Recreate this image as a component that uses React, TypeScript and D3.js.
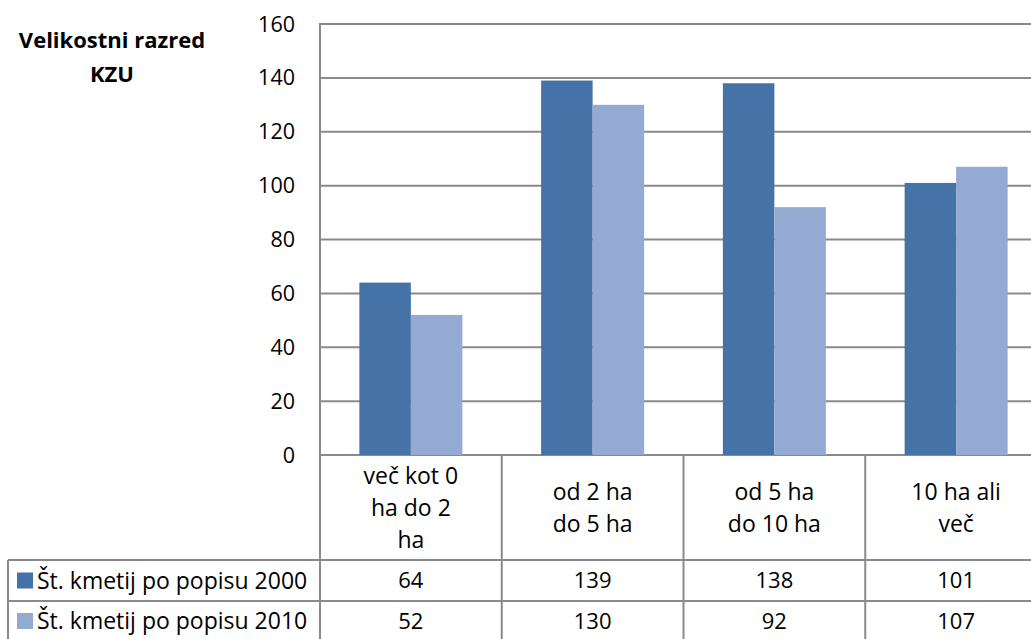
import React from "react";
import * as d3 from "d3";

const categories: string[][] = [
  ["več kot 0", "ha do 2", "ha"],
  ["od 2 ha", "do 5 ha"],
  ["od 5 ha", "do 10 ha"],
  ["10 ha ali", "več"],
];
const seriesNames = ["Št. kmetij po popisu 2000", "Št. kmetij po popisu 2010"];
const values2000 = [64, 139, 138, 101];
const values2010 = [52, 130, 92, 107];
const yTicks = [0, 20, 40, 60, 80, 100, 120, 140, 160];
const colors = ["#4573A7", "#95AAD2"];
const titleLines = ["Velikostni razred", "KZU"];

export default function App() {
  const W = 1031, H = 639;
  const left = 320, top = 24, bottom = 455;
  const catW = 181.75;
  const right = left + catW * categories.length;
  const tableRow1 = 560, tableRow2 = 601, tableBottom = 643;
  const font = "'Open Sans', sans-serif";
  const fs = 21.5;
  const fsText = 23;
  const grid = "#8a8a8a";

  const y = d3.scaleLinear().domain([0, 160]).range([bottom, top]);
  const x0 = d3.scaleBand<number>().domain(d3.range(categories.length)).range([left, right]).paddingInner(0).paddingOuter(0);
  const barW = 51.5;
  const series = [values2000, values2010];

  return (
    <svg width={W} height={H} style={{ position: "absolute", left: 0, top: 0, background: "#fff" }} fontFamily={font}>
      {yTicks.map((t) => (
        <line key={t} x1={left} x2={right} y1={y(t)} y2={y(t)} stroke={grid} strokeWidth={2} />
      ))}
      {categories.map((_, i) => {
        const cx = x0(i)! + x0.bandwidth() / 2;
        return series.map((s, j) => (
          <rect key={`${i}-${j}`} x={cx - barW + j * barW} y={y(s[i])} width={barW} height={bottom - y(s[i])} fill={colors[j]} />
        ));
      })}
      <line x1={left} x2={left} y1={top - 1} y2={tableBottom} stroke={grid} strokeWidth={2} />
      {yTicks.map((t) => (
        <text key={t} x={295} y={y(t)} dy="0.35em" textAnchor="end" fontSize={fs} fill="#000">{t}</text>
      ))}
      {titleLines.map((l, i) => (
        <text key={l} x={112} y={48 + i * 34} textAnchor="middle" fontSize={22} fontWeight="bold" fill="#000">{l}</text>
      ))}
      {d3.range(1, categories.length).map((i) => (
        <line key={i} x1={x0(i)!} x2={x0(i)!} y1={bottom} y2={tableBottom} stroke={grid} strokeWidth={2} />
      ))}
      <line x1={8} x2={right} y1={tableRow1} y2={tableRow1} stroke={grid} strokeWidth={2} />
      <line x1={8} x2={right} y1={tableRow2} y2={tableRow2} stroke={grid} strokeWidth={2} />
      <line x1={8} x2={8} y1={tableRow1} y2={tableBottom} stroke={grid} strokeWidth={2} />
      {categories.map((lines, i) => {
        const cx = x0(i)! + x0.bandwidth() / 2;
        const lh = 32;
        const mid = (bottom + tableRow1) / 2;
        const start = mid - ((lines.length - 1) * lh) / 2;
        return lines.map((l, k) => (
          <text key={`${i}-${k}`} x={cx} y={start + k * lh} dy="0.35em" textAnchor="middle" fontSize={fsText} fill="#000">{l}</text>
        ));
      })}
      {series.map((s, j) => {
        const ry = j === 0 ? (tableRow1 + tableRow2) / 2 : (tableRow2 + tableBottom) / 2 - 1;
        return (
          <g key={j}>
            <rect x={17} y={ry - 8} width={16} height={16} fill={colors[j]} />
            <text x={37} y={ry} dy="0.35em" fontSize={fsText} fill="#000">{seriesNames[j]}</text>
            {s.map((v, i) => (
              <text key={i} x={x0(i)! + x0.bandwidth() / 2} y={ry} dy="0.35em" textAnchor="middle" fontSize={fs + 0.5} fill="#000">{v}</text>
            ))}
          </g>
        );
      })}
    </svg>
  );
}
